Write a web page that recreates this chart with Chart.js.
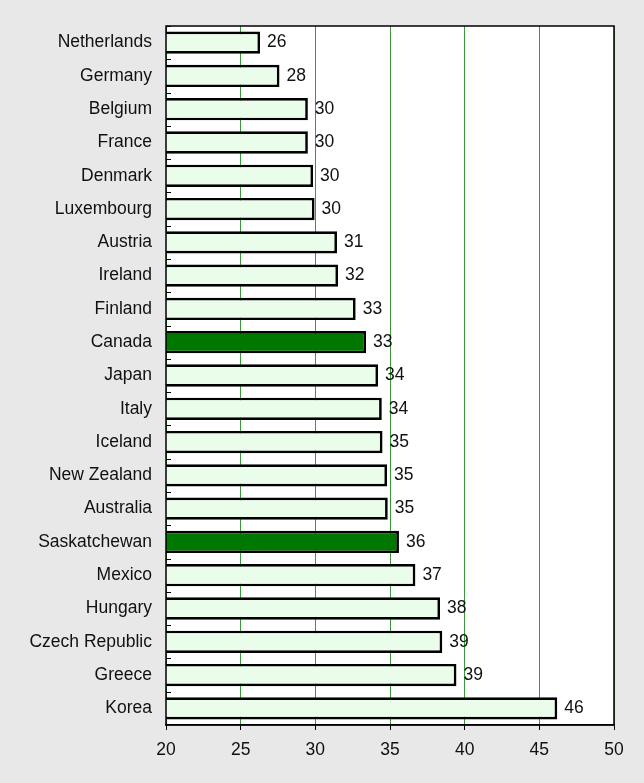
<!DOCTYPE html>
<html>
<head>
<meta charset="utf-8">
<script src="https://cdn.jsdelivr.net/npm/chart.js@4/dist/chart.umd.min.js"></script>
<style>
html, body { margin: 0; padding: 0; background: #e8e8e8; }
#wrap { width: 644px; height: 783px; }
</style>
</head>
<body>
<div id="wrap"><canvas id="myChart" width="644" height="783"></canvas></div>
<script>
// Data
const countries = ["Netherlands", "Germany", "Belgium", "France", "Denmark", "Luxembourg",
  "Austria", "Ireland", "Finland", "Canada", "Japan", "Italy", "Iceland", "New Zealand",
  "Australia", "Saskatchewan", "Mexico", "Hungary", "Czech Republic", "Greece", "Korea"];
const values = [26.3, 27.6, 29.5, 29.5, 29.85, 29.95, 31.45, 31.52, 32.7, 33.4, 34.2, 34.45,
  34.5, 34.8, 34.85, 35.6, 36.7, 38.35, 38.5, 39.45, 46.2];
const highlighted = ["Canada", "Saskatchewan"];
const xTicks = [20, 25, 30, 35, 40, 45, 50];

const lightFill = "#eafdea";
const darkFill = "#007800";
const fontFamily = "'Liberation Sans', Arial, sans-serif";

const plotFrame = {
  id: "plotFrame",
  beforeDraw(chart) {
    const a = chart.chartArea, c = chart.ctx;
    c.save();
    c.fillStyle = "#ffffff";
    c.fillRect(a.left, a.top, a.right - a.left, a.bottom - a.top);
    c.restore();
  },
  afterDatasetsDraw(chart) {
    const a = chart.chartArea, c = chart.ctx;
    const y = chart.scales.y;
    const band = y.getPixelForValue(1) - y.getPixelForValue(0);
    c.save();
    // small ticks between categories
    c.strokeStyle = "#000";
    c.lineWidth = 1;
    for (let i = 0; i < countries.length; i++) {
      const py = Math.round(y.getPixelForValue(i) - band / 2) + 0.5;
      c.beginPath();
      c.moveTo(a.left, py);
      c.lineTo(a.left + 5, py);
      c.stroke();
    }
    // frame
    c.lineWidth = 1.5;
    c.strokeStyle = "#000";
    c.strokeRect(a.left, a.top, a.right - a.left, a.bottom - a.top);
    // value labels
    const meta = chart.getDatasetMeta(0);
    c.fillStyle = "#111";
    c.font = "17.5px " + fontFamily;
    c.textBaseline = "middle";
    c.textAlign = "left";
    meta.data.forEach((bar, i) => {
      c.fillText(String(Math.round(values[i])), bar.x + 7, bar.y);
    });
    c.restore();
  }
};

const ctx = document.getElementById("myChart");

let chart = new Chart(ctx, {
  type: "bar",
  data: {
    labels: countries,
    datasets: [{
      data: values,
      backgroundColor: countries.map(c => highlighted.includes(c) ? darkFill : lightFill),
      borderColor: "#000",
      borderWidth: 2.7,
      borderSkipped: "left",
      barPercentage: 0.67,
      categoryPercentage: 1.0
    }]
  },
  options: {
    indexAxis: "y",
    responsive: false,
    animation: false,
    devicePixelRatio: 1,
    layout: { padding: { top: 26, right: 30, left: 0, bottom: 18 } },
    plugins: { legend: { display: false }, tooltip: { enabled: false } },
    scales: {
      x: {
        min: 20,
        max: 50,
        afterBuildTicks(scale) { scale.ticks = xTicks.map(v => ({ value: v })); },
        afterFit(scale) { scale.height = 40; },
        grid: { color: "#3a9a3a", lineWidth: 1, tickColor: "#000", tickLength: 5 },
        border: { display: true, color: "#000", width: 1.5 },
        ticks: { color: "#111", padding: 10, font: { family: fontFamily, size: 17.5 } }
      },
      y: {
        afterFit(scale) { scale.width = 166; },
        grid: { display: false },
        border: { display: false },
        ticks: { color: "#111", padding: 6, font: { family: fontFamily, size: 17.5 } }
      }
    }
  },
  plugins: [plotFrame]
});
</script>
</body>
</html>
